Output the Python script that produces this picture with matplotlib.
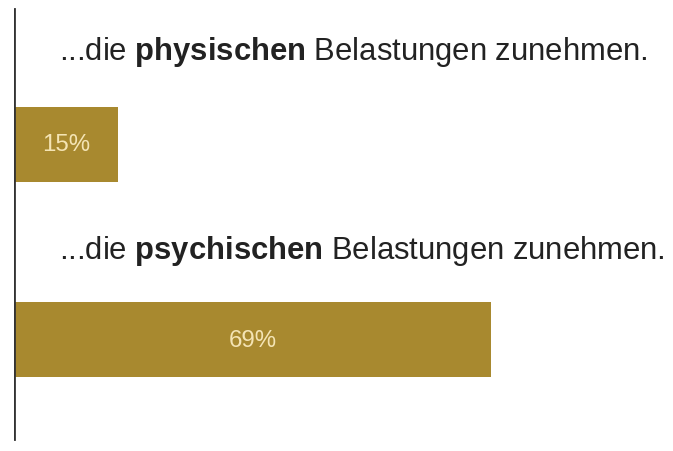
import numpy as np
import matplotlib.pyplot as plt

plt.rcParams['font.family'] = ['Liberation Sans', 'DejaVu Sans']
plt.rcParams['mathtext.fontset'] = 'custom'
plt.rcParams['mathtext.rm'] = 'Liberation Sans'
plt.rcParams['mathtext.bf'] = 'Liberation Sans:bold'

## Data
statements = [r"...die $\bf{physischen}$ Belastungen zunehmen.",
              r"...die $\bf{psychischen}$ Belastungen zunehmen."]
values = [15, 69]
value_labels = ["15%", "69%"]

bar_color = "#A8892F"
label_color = "#F4E4B4"

fig = plt.figure(figsize=(6.73, 4.52), dpi=100)
ax = fig.add_axes([14/673, 0, 1 - 14/673, 1])

ypos = np.arange(len(values))
ax.barh(ypos, values, height=0.384, color=bar_color, align='center')

for y, v, lab, txt in zip(ypos, values, value_labels, statements):
    ax.text(v/2, y, lab, ha='center', va='center', color=label_color, fontsize=17.3)
    ax.text(6.5, y - 0.46 - 0.02*(1 - y), txt, ha='left', va='center',
            color='#222222', fontsize=22.3)

ax.set_xlim(0, (673 - 14)/6.92)
ax.set_ylim(1.568, -0.744)
ax.axvline(0, ymin=0.027, ymax=0.978, color='#333333', lw=2)

ax.set_xticks([])
ax.set_yticks([])
for s in ax.spines.values():
    s.set_visible(False)

fig.savefig("out.png", dpi=100)
